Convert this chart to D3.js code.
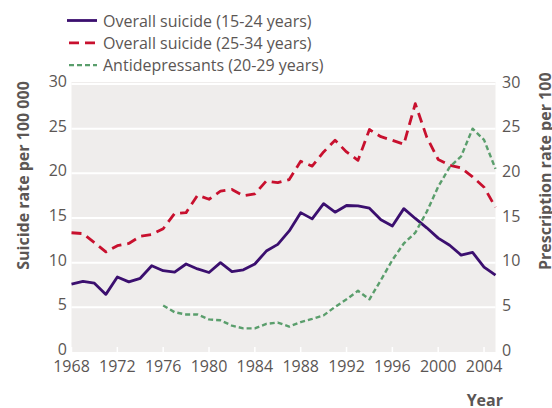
<!DOCTYPE html>
<html><head><meta charset="utf-8">
<script src="https://cdn.jsdelivr.net/npm/d3@7"></script>
<style>
html,body{margin:0;padding:0;background:#fff;}
svg{display:block;font-family:"Open Sans",sans-serif;}
</style></head>
<body><svg id="c" width="552" height="408"></svg>
<script>
const years = d3.range(1968, 2006);
const suicide1524 = [7.6,7.9,7.7,6.45,8.4,7.85,8.25,9.65,9.1,8.95,9.85,9.3,8.9,10.0,9.0,9.2,9.85,11.3,12.05,13.55,15.6,14.9,16.6,15.65,16.4,16.35,16.1,14.8,14.1,16.05,14.95,13.9,12.75,11.95,10.85,11.15,9.5,8.6];
const suicide2534 = [13.35,13.25,12.25,11.2,11.9,12.15,12.95,13.15,13.8,15.5,15.6,17.55,17.1,18.0,18.2,17.5,17.7,19.15,18.95,19.3,21.35,20.8,22.4,23.7,22.4,21.45,24.9,24.1,23.7,23.25,27.8,24.05,21.55,20.9,20.6,19.6,18.45,16.2];
const adYears = d3.range(1976, 2006);
const antidepressants = [5.2,4.45,4.2,4.2,3.65,3.55,2.95,2.65,2.65,3.15,3.3,2.85,3.35,3.7,4.1,5.05,5.9,6.85,5.9,8.05,10.3,12.15,13.35,15.7,18.5,20.7,21.9,25.0,23.75,20.5];
const yTicks = [0,5,10,15,20,25,30];
const xTicks = d3.range(1968, 2005, 4);
const seriesNames = ["Overall suicide (15-24 years)","Overall suicide (25-34 years)","Antidepressants (20-29 years)"];

const svg = d3.select("#c");
const L = 71.5, R = 495.5, T = 84, B = 352;
const x = d3.scaleLinear().domain([1968, 2005]).range([L, R]);
const y = d3.scaleLinear().domain([0, 30]).range([B, T]);

svg.append("rect").attr("x", L).attr("y", T - 2).attr("width", R - L).attr("height", B - T + 2).attr("fill", "#efedec");

svg.append("g").selectAll("line").data(yTicks.filter(d => d > 0)).join("line")
  .attr("x1", L).attr("x2", R).attr("y1", d => y(d)).attr("y2", d => y(d))
  .attr("stroke", "#fff").attr("stroke-width", 2);

svg.append("g").selectAll("line").data(xTicks).join("line")
  .attr("x1", d => x(d)).attr("x2", d => x(d)).attr("y1", B).attr("y2", B - 5)
  .attr("stroke", "#fff").attr("stroke-width", 1.5);

const txt = "#5b5654";
svg.append("g").selectAll("text").data(xTicks).join("text")
  .attr("x", d => x(d)).attr("y", B + 19.5).attr("text-anchor", "middle")
  .attr("font-size", 16).attr("fill", txt).text(d => d);

svg.append("g").selectAll("text").data(yTicks).join("text")
  .attr("x", 67).attr("y", d => y(d) + 3).attr("text-anchor", "end")
  .attr("font-size", 16).attr("fill", txt).text(d => d);
svg.append("g").selectAll("text").data(yTicks).join("text")
  .attr("x", 502).attr("y", d => y(d) + 3.5).attr("text-anchor", "start")
  .attr("font-size", 16).attr("fill", txt).text(d => d);

svg.append("text").attr("transform", "translate(29,175.5) rotate(-90)").attr("text-anchor", "middle")
  .attr("font-size", 16).attr("font-weight", "bold").attr("fill", "#5b5654").text("Suicide rate per 100 000");
svg.append("text").attr("transform", "translate(551,270) rotate(-90)").attr("text-anchor", "start")
  .attr("font-size", 16).attr("font-weight", "bold").attr("fill", "#5b5654").text("Prescription rate per 100");
svg.append("text").attr("x", 503).attr("y", 405.5).attr("text-anchor", "end")
  .attr("font-size", 16).attr("font-weight", "bold").attr("fill", "#5b5654").text("Year");

const line = d3.line().x(d => x(d[0])).y(d => y(d[1]));
const colors = ["#3b0f6f", "#c8102e", "#5a9e6c"];
const dashes = [null, "10,6", "5,3"];
const widths = [2.8, 2.8, 2.4];
const data = [
  years.map((yr, i) => [yr, suicide1524[i]]),
  years.map((yr, i) => [yr, suicide2534[i]]),
  adYears.map((yr, i) => [yr, antidepressants[i]])
];
data.forEach((d, i) => {
  svg.append("path").attr("d", line(d)).attr("fill", "none")
    .attr("stroke", colors[i]).attr("stroke-width", widths[i])
    .attr("stroke-dasharray", dashes[i]).attr("stroke-linejoin", "round");
});

const leg = svg.append("g");
seriesNames.forEach((n, i) => {
  const ly = 20.5 + i * 22.3;
  leg.append("line").attr("x1", i === 0 ? 67 : 69).attr("x2", 97).attr("y1", ly).attr("y2", ly)
    .attr("stroke", colors[i]).attr("stroke-width", widths[i]).attr("stroke-dasharray", dashes[i]);
  leg.append("text").attr("x", 103).attr("y", ly + 6).attr("font-size", 16).attr("fill", txt).text(n);
});
</script></body></html>
